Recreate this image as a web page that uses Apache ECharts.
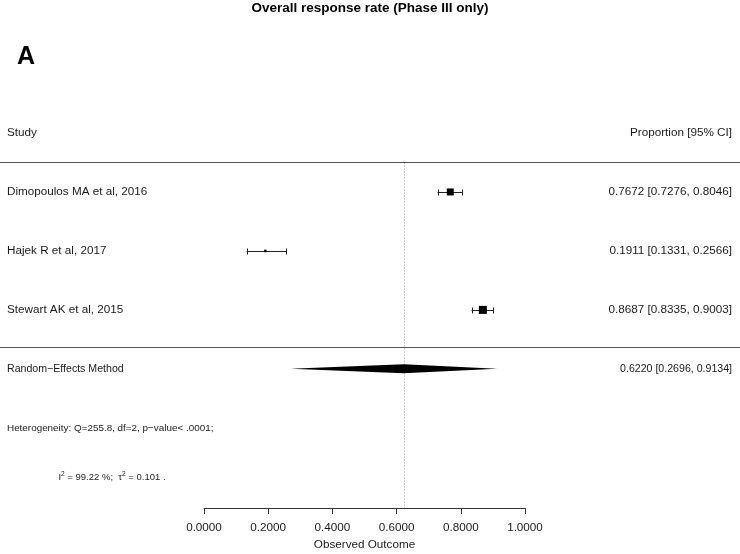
<!DOCTYPE html>
<html><head><meta charset="utf-8">
<script src="https://cdn.jsdelivr.net/npm/echarts@6/dist/echarts.min.js"></script>
<style>html,body{margin:0;padding:0;background:#fff}#c{width:740px;height:554px}</style>
</head><body><div id="c"></div>
<script>
// ---- data ----
const studies = ['Dimopoulos MA et al, 2016', 'Hajek R et al, 2017', 'Stewart AK et al, 2015'];
const estimates = [0.7672, 0.1911, 0.8687];
const lowerCI = [0.7276, 0.1331, 0.8335];
const upperCI = [0.8046, 0.2566, 0.9003];
const pooledLabel = 'Random\u2212Effects Method';
const pooledEstimate = 0.6220;
const pooledLower = 0.2696;
const pooledUpper = 0.9134;
const xTicks = [0, 0.2, 0.4, 0.6, 0.8, 1.0];
const heterogeneityText = 'Heterogeneity: Q=255.8, df=2, p\u2212value< .0001;';
const i2Value = '99.22 %';
const tau2Value = '0.101';
const titleText = 'Overall response rate (Phase III only)';
const panelLabel = 'A';
const leftHeader = 'Study';
const rightHeader = 'Proportion [95% CI]';
const xAxisName = 'Observed Outcome';

// ---- layout / style (not data) ----
const FONT = '"Liberation Sans", Arial, Helvetica, sans-serif';
const FS = 11.7;
const studyRows = [1, 2, 3];
const pooledRow = 4;
const hetRow = 5;
const i2Row = 5.83;
const topLineRow = 0.5;
const bottomLineRow = 3.63;
const axisRow = 6.36;
const squareSizes = [7, 2.5, 8];
const TXT = '#1a1a1a';

const fmt = v => v.toFixed(4);
const ciText = (e, l, h) => fmt(e) + ' [' + fmt(l) + ', ' + fmt(h) + ']';
const crisp = y => Math.round(y) + 0.5;

const chart = echarts.init(document.getElementById('c'), null, {renderer: 'canvas'});

const studyData = studies.map((s, i) => [estimates[i], lowerCI[i], upperCI[i], studyRows[i]]);

function renderStudy(params, api) {
  const i = params.dataIndex;
  const row = api.value(3);
  const pE = api.coord([api.value(0), row]);
  const pL = api.coord([api.value(1), row]);
  const pH = api.coord([api.value(2), row]);
  const y = crisp(pE[1]);
  const s = squareSizes[i];
  const stroke = {stroke: '#222', lineWidth: 1};
  return {
    type: 'group',
    children: [
      {type: 'line', shape: {x1: pL[0], y1: y, x2: pH[0], y2: y}, style: stroke},
      {type: 'line', shape: {x1: crisp(pL[0]), y1: y - 3, x2: crisp(pL[0]), y2: y + 3}, style: stroke},
      {type: 'line', shape: {x1: crisp(pH[0]), y1: y - 3, x2: crisp(pH[0]), y2: y + 3}, style: stroke},
      {type: 'rect', shape: {x: pE[0] - s / 2, y: pE[1] - s / 2, width: s, height: s}, style: {fill: '#000'}},
      {type: 'text', x: 7, y: pE[1], style: {text: studies[i], fontSize: FS, fontFamily: FONT, fill: TXT, align: 'left', verticalAlign: 'middle'}},
      {type: 'text', x: 732, y: pE[1], style: {text: ciText(api.value(0), api.value(1), api.value(2)), fontSize: FS, fontFamily: FONT, fill: TXT, align: 'right', verticalAlign: 'middle'}}
    ]
  };
}

function renderFrame(params, api) {
  const est = api.value(0), lo = api.value(1), hi = api.value(2);
  const pC = api.coord([est, pooledRow]);
  const pL = api.coord([lo, pooledRow]);
  const pH = api.coord([hi, pooledRow]);
  const yTop = crisp(api.coord([0, topLineRow])[1]);
  const yBot = crisp(api.coord([0, bottomLineRow])[1]);
  const yAxisLine = api.coord([0, axisRow])[1];
  const yHead = api.coord([0, 0])[1];
  const yHet = api.coord([0, hetRow])[1];
  const yI2 = api.coord([0, i2Row])[1];
  const h = 4.5;
  const xRef = crisp(pC[0]);
  return {
    type: 'group',
    children: [
      {type: 'line', shape: {x1: xRef, y1: yTop, x2: xRef, y2: yAxisLine}, style: {stroke: '#999', lineWidth: 1, lineDash: [1, 2]}},
      {type: 'line', shape: {x1: 0, y1: yTop, x2: 740, y2: yTop}, style: {stroke: '#555', lineWidth: 1}},
      {type: 'line', shape: {x1: 0, y1: yBot, x2: 740, y2: yBot}, style: {stroke: '#555', lineWidth: 1}},
      {type: 'polygon', shape: {points: [[pL[0], pC[1]], [pC[0], pC[1] - h], [pH[0], pC[1]], [pC[0], pC[1] + h]]}, style: {fill: '#000'}},
      {type: 'text', x: 7, y: yHead, style: {text: leftHeader, fontSize: FS, fontFamily: FONT, fill: TXT, align: 'left', verticalAlign: 'middle'}},
      {type: 'text', x: 732, y: yHead, style: {text: rightHeader, fontSize: FS, fontFamily: FONT, fill: TXT, align: 'right', verticalAlign: 'middle'}},
      {type: 'text', x: 7, y: pC[1], style: {text: pooledLabel, fontSize: 10.6, fontFamily: FONT, fill: TXT, align: 'left', verticalAlign: 'middle'}},
      {type: 'text', x: 732, y: pC[1], style: {text: ciText(est, lo, hi), fontSize: 10.6, fontFamily: FONT, fill: TXT, align: 'right', verticalAlign: 'middle'}},
      {type: 'text', x: 7, y: yHet, style: {text: heterogeneityText, fontSize: 9.9, fontFamily: FONT, fill: TXT, align: 'left', verticalAlign: 'middle'}},
      {type: 'text', x: 112, y: yI2, style: {
        text: '{n|I}{s|2}{n| = ' + i2Value + ';  \u03c4}{s|2}{n| = ' + tau2Value + ' .}',
        align: 'center', verticalAlign: 'middle', fontFamily: FONT, fill: TXT,
        rich: {
          n: {fontSize: 9.5, fontFamily: FONT, fill: TXT, verticalAlign: 'bottom', lineHeight: 12},
          s: {fontSize: 6.5, fontFamily: FONT, fill: TXT, verticalAlign: 'top', lineHeight: 12}
        }
      }}
    ]
  };
}

const option = {
  animation: false,
  backgroundColor: '#fff',
  textStyle: {fontFamily: FONT},
  grid: {left: 204, width: 321, top: 133, bottom: 46, containLabel: false, outerBoundsMode: 'none'},
  xAxis: {
    type: 'value', min: xTicks[0], max: xTicks[xTicks.length - 1], interval: 0.2,
    axisLine: {show: true, onZero: false, lineStyle: {color: '#333', width: 1}},
    axisTick: {show: true, length: 6, lineStyle: {color: '#333'}},
    axisLabel: {formatter: v => fmt(v), fontSize: FS, color: TXT, margin: 14, fontFamily: FONT},
    splitLine: {show: false},
    name: xAxisName, nameLocation: 'middle', nameGap: 29,
    nameTextStyle: {fontSize: FS, color: TXT, fontFamily: FONT}
  },
  yAxis: {type: 'value', min: 0, max: axisRow, inverse: true, show: false},
  graphic: [
    {type: 'text', left: 'center', top: 1, style: {text: titleText, fontSize: 13.5, fontWeight: 'bold', fontFamily: FONT, fill: '#000'}},
    {type: 'text', left: 17, top: 45, style: {text: panelLabel, fontSize: 25, fontWeight: 'bold', fontFamily: FONT, fill: '#000'}}
  ],
  series: [
    {type: 'custom', clip: false, renderItem: renderStudy, data: studyData, silent: true},
    {type: 'custom', clip: false, renderItem: renderFrame, data: [[pooledEstimate, pooledLower, pooledUpper]], silent: true}
  ]
};
chart.setOption(option);
</script>
</body></html>
